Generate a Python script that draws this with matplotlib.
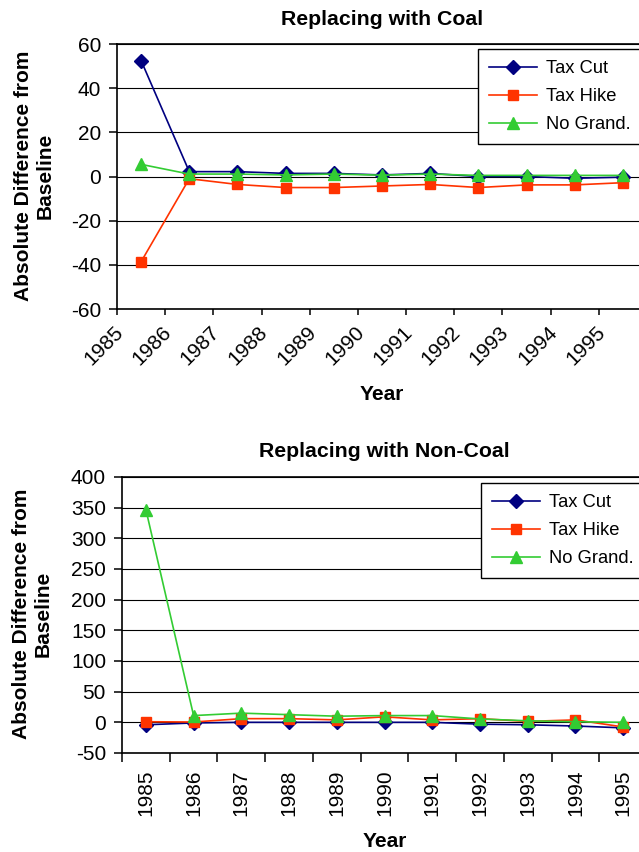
import numpy as np
import matplotlib
matplotlib.use("Agg")
import matplotlib.pyplot as plt
from matplotlib.transforms import ScaledTranslation

# > Data:
years = ["1985", "1986", "1987", "1988", "1989", "1990",
         "1991", "1992", "1993", "1994", "1995"]
series_names = ["Tax Cut", "Tax Hike", "No Grand."]

coal_tax_cut = [52.5, 2.2, 2.2, 1.4, 1.4, 0.7, 1.4, 0.0, 0.0, -0.8, -0.3]
coal_tax_hike = [-38.6, -1.0, -3.6, -5.0, -5.0, -4.3, -3.6, -5.0, -3.8, -3.8, -2.8]
coal_no_grand = [5.5, 1.1, 1.1, 0.7, 1.1, 0.6, 1.1, 0.5, 0.5, 0.5, 0.5]

noncoal_tax_cut = [-4.0, -1.0, 0.0, 0.0, 0.0, 0.0, 0.0, -3.0, -4.0, -6.0, -9.0]
noncoal_tax_hike = [1.0, 0.5, 6.0, 6.0, 4.0, 9.0, 4.0, 6.0, 1.5, 4.0, -7.5]
noncoal_no_grand = [347.0, 11.0, 15.0, 12.5, 10.0, 11.0, 11.0, 5.5, 2.5, 1.0, 0.0]

coal_yticks = [-60, -40, -20, 0, 20, 40, 60]
noncoal_yticks = [-50, 0, 50, 100, 150, 200, 250, 300, 350, 400]
# <

# > Styles:
FONT = "Liberation Sans"
FONT_TITLE = 15.3
FONT_LABELS = 15
FONT_TICKLABELS = 15
FONT_LEGENDS = 13.2
COLORS = ["#000080", "#FF3300", "#33CC33"]
MARKERS = ["D", "s", "^"]
MSIZES = [7, 7.5, 8.5]
W, H = 639, 852
# <

plt.rcParams["font.family"] = FONT
plt.rcParams["axes.unicode_minus"] = False  # "-60" with a plain hyphen

fig = plt.figure(figsize=(W / 100, H / 100), dpi=100)


def fx(px):
    return px / W


def fy(py):
    return 1 - py / H


def draw_panel(ax, data, yticks):
    x = np.arange(len(years)) + 0.5
    lines = []
    for vals, c, m, ms, name in zip(data, COLORS, MARKERS, MSIZES, series_names):
        ln, = ax.plot(x, vals, color=c, marker=m, markersize=ms,
                      markeredgecolor=c, linewidth=1.2, label=name)
        lines.append(ln)
    ax.set_xlim(0, len(years))
    ax.set_ylim(yticks[0], yticks[-1])
    ax.set_yticks(yticks)
    ax.yaxis.grid(True, color="black", linewidth=0.8)
    ax.set_axisbelow(True)
    ax.spines["right"].set_visible(False)
    for s in ["left", "bottom", "top"]:
        ax.spines[s].set_linewidth(1.2)
    ax.tick_params(axis="y", labelsize=FONT_TICKLABELS, direction="out",
                   length=6, width=1.1, pad=5.5)
    ax.tick_params(axis="x", which="both", labelsize=FONT_TICKLABELS,
                   direction="out", width=1.1)
    ax.legend(handles=lines, loc="upper left", fontsize=FONT_LEGENDS,
              frameon=True, fancybox=False, framealpha=1, edgecolor="black",
              borderpad=0.6, labelspacing=0.6, handlelength=2.6,
              handletextpad=0.5, borderaxespad=0)
    return lines


# > Top panel: Replacing with Coal
ax1 = fig.add_axes([fx(117), fy(309), fx(647) - fx(117), (309 - 44) / H])
draw_panel(ax1, [coal_tax_cut, coal_tax_hike, coal_no_grand], coal_yticks)
ax1.set_xticks(np.arange(len(years) + 1))
ax1.set_xticklabels(years + [""], rotation=45, ha="right")
ax1.tick_params(axis="x", length=4.5, pad=5)
shift = ScaledTranslation(10 / 100, 0, fig.dpi_scale_trans)
for lab in ax1.get_xticklabels():
    lab.set_transform(lab.get_transform() + shift)
ax1.get_legend().set_bbox_to_anchor((fx(478), fy(49)), transform=fig.transFigure)
fig.text(fx(382), fy(25), "Replacing with Coal", ha="center", va="baseline",
         fontsize=FONT_TITLE, fontweight="bold")
fig.text(fx(382), fy(400), "Year", ha="center", va="baseline",
         fontsize=FONT_LABELS, fontweight="bold")
fig.text(fx(34.5), fy(176), "Absolute Difference from\nBaseline",
         rotation=90, ha="center", va="center", fontsize=FONT_LABELS,
         fontweight="bold", linespacing=1.2)
# <

# > Bottom panel: Replacing with Non-Coal
ax2 = fig.add_axes([fx(122), fy(753), fx(647) - fx(122), (753 - 477) / H])
draw_panel(ax2, [noncoal_tax_cut, noncoal_tax_hike, noncoal_no_grand],
           noncoal_yticks)
ax2.set_xticks(np.arange(len(years) + 1))
ax2.set_xticklabels([])
ax2.tick_params(axis="x", which="major", length=6.5)
ax2.set_xticks(np.arange(len(years)) + 0.5, minor=True)
ax2.set_xticklabels(years, minor=True, rotation=90)
ax2.tick_params(axis="x", which="minor", length=0, pad=12)
ax2.get_legend().set_bbox_to_anchor((fx(481), fy(483)), transform=fig.transFigure)
fig.text(fx(384), fy(457), "Replacing with Non-Coal", ha="center", va="baseline",
         fontsize=FONT_TITLE, fontweight="bold")
fig.text(fx(385), fy(847), "Year", ha="center", va="baseline",
         fontsize=FONT_LABELS, fontweight="bold")
fig.text(fx(32.5), fy(614), "Absolute Difference from\nBaseline",
         rotation=90, ha="center", va="center", fontsize=FONT_LABELS,
         fontweight="bold", linespacing=1.2)
# <

fig.savefig("out.png", dpi=100)
